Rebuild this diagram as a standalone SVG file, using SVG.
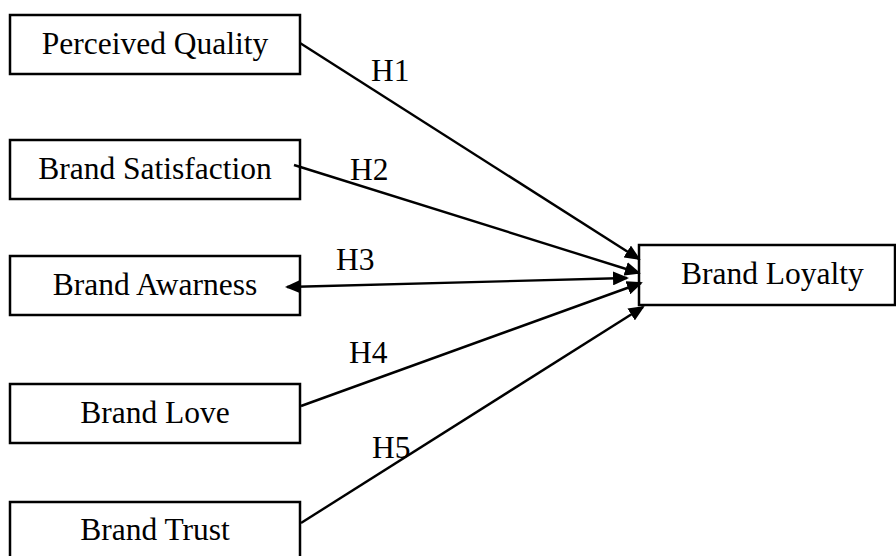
<svg xmlns="http://www.w3.org/2000/svg" width="896" height="556" viewBox="0 0 896 556">
<style>
.box{fill:#fff;stroke:#000;stroke-width:2.5}
.t{font-family:'Liberation Serif','DejaVu Serif','Times New Roman',serif;font-size:31.5px;fill:#000}
.c{text-anchor:middle}
.ln{stroke:#000;stroke-width:2.4;fill:none}
</style>
<defs>
<marker id="ah" markerUnits="userSpaceOnUse" markerWidth="17" markerHeight="14" refX="14" refY="7" orient="auto-start-reverse">
<path d="M0,0 L16,7 L0,14 z" fill="#000"/>
</marker>
</defs>
<rect width="896" height="556" fill="#fff"/>
<g id="perceived-quality">
<rect class="box" x="10" y="15" width="290" height="59"/>
<text class="t c" x="155" y="54" font-family="Liberation Serif, serif">Perceived Quality</text>
</g>
<g id="brand-satisfaction">
<rect class="box" x="10" y="140" width="290" height="59"/>
<text class="t c" x="155" y="179" font-family="Liberation Serif, serif">Brand Satisfaction</text>
</g>
<g id="brand-awarness">
<rect class="box" x="10" y="256" width="290" height="59"/>
<text class="t c" x="155" y="295" font-family="Liberation Serif, serif">Brand Awarness</text>
</g>
<g id="brand-love">
<rect class="box" x="10" y="384" width="290" height="59"/>
<text class="t c" x="155" y="423" font-family="Liberation Serif, serif">Brand Love</text>
</g>
<g id="brand-trust">
<rect class="box" x="10" y="502" width="290" height="70"/>
<text class="t c" x="155" y="540" font-family="Liberation Serif, serif">Brand Trust</text>
</g>
<g id="brand-loyalty">
<rect class="box" x="639" y="245" width="256" height="60"/>
<text class="t" x="681" y="284" font-family="Liberation Serif, serif">Brand Loyalty</text>
</g>
<g id="connectors">
<line class="ln" x1="300" y1="43" x2="639" y2="259" marker-end="url(#ah)"/>
<line class="ln" x1="294" y1="165" x2="639" y2="273" marker-end="url(#ah)"/>
<line class="ln" x1="287" y1="287" x2="627" y2="278" stroke-width="2" marker-start="url(#ah)" marker-end="url(#ah)"/>
<line class="ln" x1="301" y1="406" x2="641" y2="283" marker-end="url(#ah)"/>
<line class="ln" x1="301" y1="523" x2="643" y2="307" marker-end="url(#ah)"/>
<text class="t" x="371" y="81" font-family="Liberation Serif, serif">H1</text>
<text class="t" x="350" y="180" font-family="Liberation Serif, serif">H2</text>
<text class="t" x="336" y="270" font-family="Liberation Serif, serif">H3</text>
<text class="t" x="349" y="363" font-family="Liberation Serif, serif">H4</text>
<text class="t" x="372" y="458" font-family="Liberation Serif, serif">H5</text>
</g>
</svg>
